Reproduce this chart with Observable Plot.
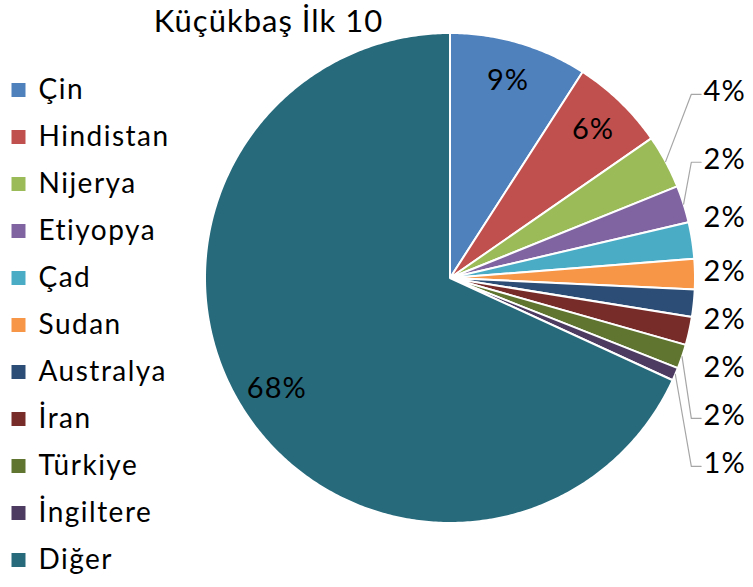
<!DOCTYPE html>
<html><head><meta charset="utf-8">
<script src="https://cdn.jsdelivr.net/npm/d3@7"></script>
<script src="https://cdn.jsdelivr.net/npm/@observablehq/plot@0.6"></script>
<style>
body{margin:0;background:#fff;}
#wrap{position:relative;width:753px;height:587px;overflow:hidden;}
#pie,#legend{position:absolute;left:0;top:0;}
</style></head><body><div id="wrap"><div id="pie"></div><div id="legend"></div></div>
<script>
const title = "Küçükbaş İlk 10";
const categories = ["Çin","Hindistan","Nijerya","Etiyopya","Çad","Sudan","Australya","İran","Türkiye","İngiltere","Diğer"];
const shares = [9.1, 6.25, 3.55, 2.45, 2.4, 2.0, 1.8, 1.85, 1.6, 0.85, 68.15];
const colors = ["#4F81BD","#C0504D","#9BBB59","#8064A2","#4BACC6","#F79646","#2C4D75","#772C2A","#5F7530","#4D3B62","#276A7C"];

const FONT = "Lato, 'Open Sans', sans-serif";
const W = 753, H = 587, CX = 449.5, CY = 277.5, R = 245;
const total = d3.sum(shares);
const fmt = v => Math.round(v / total * 100) + "%";

const pie = d3.pie().sort(null).value(d => d.v)(categories.map((c, i) => ({c, v: shares[i]})));
const slicePts = [];
pie.forEach(p => {
  const n = Math.max(4, Math.ceil((p.endAngle - p.startAngle) / 0.01));
  slicePts.push({c: p.data.c, x: 0, y: 0});
  for (let k = 0; k <= n; k++) {
    const a = p.startAngle + (p.endAngle - p.startAngle) * k / n;
    slicePts.push({c: p.data.c, x: Math.sin(a), y: Math.cos(a)});
  }
  slicePts.push({c: p.data.c, x: 0, y: 0});
});
const mid = p => (p.startAngle + p.endAngle) / 2;
const inside = pie.filter(p => p.data.v >= 5).map(p => ({
  t: fmt(p.data.v), x: 0.84 * Math.sin(mid(p)), y: 0.84 * Math.cos(mid(p))
}));
const LX = 1.035, GAP = 0.196;
const outside = pie.filter(p => p.data.v < 5).map(p => ({
  t: fmt(p.data.v), ex: Math.sin(mid(p)), ey: Math.cos(mid(p)), y: Math.cos(mid(p)) * 1.6
}));
for (let i = 1; i < outside.length; i++) outside[i].y = Math.min(outside[i].y, outside[i-1].y - GAP);
const leaders = [];
outside.forEach((o, i) => {
  if (Math.abs(o.y - o.ey) > 0.17) {
    const ly = o.y - 0.01;
    leaders.push({i, x: o.ex, y: o.ey}, {i, x: LX - 0.05, y: ly}, {i, x: LX - 0.01, y: ly});
  }
});

const color = {type: "ordinal", domain: categories, range: colors};
const piePlot = Plot.plot({
  width: W, height: H, margin: 0,
  style: {fontFamily: FONT, background: "transparent", letterSpacing: "1px"},
  x: {domain: [-CX / R, (W - CX) / R], range: [0, W], axis: null},
  y: {domain: [-(H - CY) / R, CY / R], range: [H, 0], axis: null},
  color,
  marks: [
    Plot.line(slicePts, {x: "x", y: "y", z: "c", fill: "c", stroke: "white", strokeWidth: 2, strokeLinejoin: "round", curve: "linear"}),
    Plot.line(leaders, {x: "x", y: "y", z: "i", stroke: "#A6A6A6", strokeWidth: 1.2}),
    Plot.text(inside, {x: "x", y: "y", text: "t", fontSize: 29, fill: "black"}),
    Plot.text(outside, {x: LX, y: "y", text: "t", fontSize: 29, fill: "black", textAnchor: "start"}),
    Plot.text([title], {x: (268 - CX) / R, y: (CY - 22) / R, text: d => d, fontSize: 31, fill: "black"})
  ]
});
document.getElementById("pie").appendChild(piePlot);

const legendPlot = Plot.plot({
  width: 200, height: H, margin: 0,
  style: {fontFamily: FONT, background: "transparent", letterSpacing: "1.5px"},
  x: {domain: [0, 200], range: [0, 200], axis: null},
  y: {type: "band", domain: categories, range: [63, 586], padding: 0, axis: null},
  color,
  marks: [
    Plot.dot(categories, {x: 18, y: d => d, fill: d => d, symbol: "square", r: 7.9}),
    Plot.text(categories, {x: 38, y: d => d, text: d => d, fontSize: 28, fill: "black", textAnchor: "start"})
  ]
});
document.getElementById("legend").appendChild(legendPlot);
</script></body></html>
